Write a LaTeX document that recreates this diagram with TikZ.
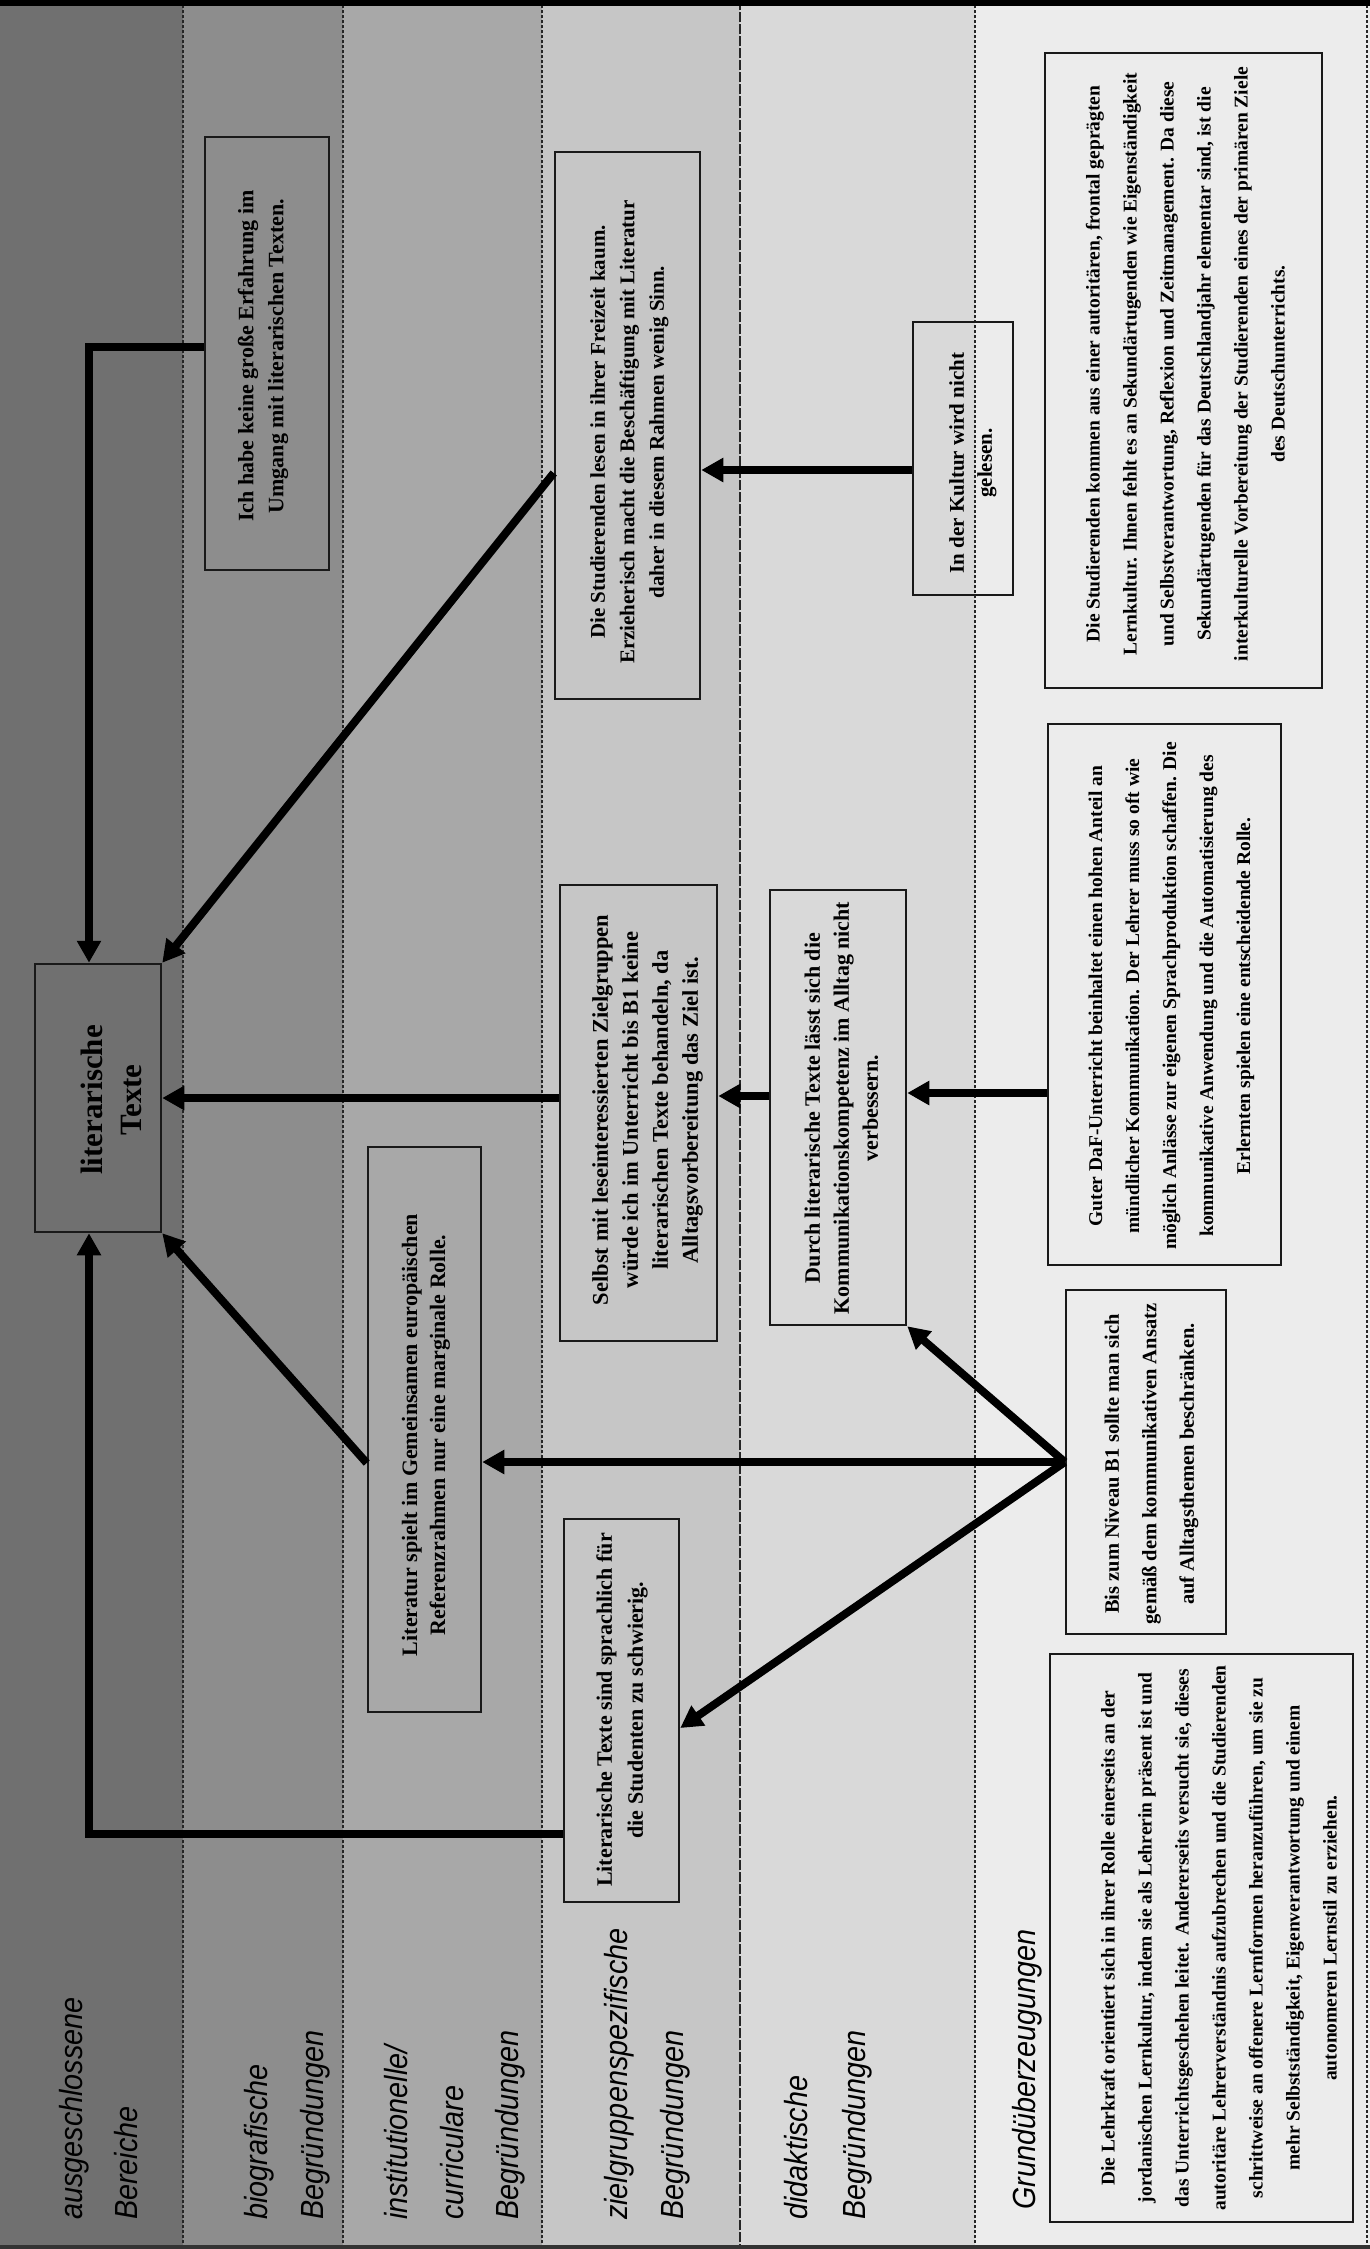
\documentclass[tikz,border=0pt]{standalone}
\usepackage{fontspec}
\setmainfont{Liberation Serif}
\newfontfamily\lblfont[FakeStretch=0.9]{Liberation Sans}
\usetikzlibrary{arrows.meta,calc}
\definecolor{bandA}{HTML}{707070}
\definecolor{bandB}{HTML}{8D8D8D}
\definecolor{bandC}{HTML}{A8A8A8}
\definecolor{bandD}{HTML}{C6C6C6}
\definecolor{bandE}{HTML}{D9D9D9}
\definecolor{bandF}{HTML}{ECECEC}
\tikzset{
  box/.style={draw=black!90, line width=2.5pt, rotate=90, inner sep=0pt},
  txt/.style={rotate=90, align=center, inner sep=0pt},
  lbl/.style={rotate=90, anchor=base west, inner sep=0pt, font=\lblfont\itshape\fontsize{32}{38}\selectfont},
  conn/.style={line width=8pt, -{Triangle[length=22pt,width=23pt]}},
  sepline/.style={line width=1.8pt, dash pattern=on 3pt off 2pt, black!85},
}
\begin{document}
\begin{tikzpicture}[x=1pt,y=-1pt]
\useasboundingbox (0,0) rectangle (1370,2249);
% bands
\fill[bandA] (0,0) rectangle (183,2249);
\fill[bandB] (183,0) rectangle (343,2249);
\fill[bandC] (343,0) rectangle (542,2249);
\fill[bandD] (542,0) rectangle (740,2249);
\fill[bandE] (740,0) rectangle (975,2249);
\fill[bandF] (975,0) rectangle (1370,2249);
\draw[sepline] (183,0) -- (183,2249);
\draw[sepline] (343,0) -- (343,2249);
\draw[sepline] (542,0) -- (542,2249);
\draw[line width=1.5pt, dash pattern=on 10pt off 2pt, black!85] (740,0) -- (740,2249);
\draw[sepline] (975,0) -- (975,2249);
\draw[sepline] (1367,0) -- (1367,2249);
\draw[line width=6pt] (0,3) -- (1370,3);
\draw[line width=4pt, black!80] (0,2247) -- (1370,2247);

% band titles
\node[lbl] (l1a) at (82,2220) {ausgeschlossene};
\node[lbl] (l1b) at (137,2220) {Bereiche};
\node[lbl] (l2a) at (267,2220) {biografische};
\node[lbl] (l2b) at (323,2220) {Begründungen};
\node[lbl] (l3a) at (407,2220) {institutionelle/};
\node[lbl] (l3b) at (463,2220) {curriculare};
\node[lbl] (l3c) at (518,2220) {Begründungen};
\node[lbl] (l4a) at (627,2220) {zielgruppenspezifische};
\node[lbl] (l4b) at (683,2220) {Begründungen};
\node[lbl] (l5a) at (807,2220) {didaktische};
\node[lbl] (l5b) at (865,2220) {Begründungen};
\node[lbl] (l6) at (1035,2210) {Grundüberzeugungen};

% boxes
\node[box, minimum width=268pt, minimum height=126pt] (lit) at (98,1098) {};
\node[box, minimum width=433pt, minimum height=124pt] (ich) at (267,353.5) {};
\node[box, minimum width=547pt, minimum height=145pt] (stud) at (627.5,425.5) {};
\node[box, minimum width=273pt, minimum height=100pt] (kultur) at (963,458.5) {};
\node[box, minimum width=635pt, minimum height=277pt] (gu1) at (1183.5,370.5) {};
\node[box, minimum width=456pt, minimum height=157pt] (selbst) at (638.5,1113) {};
\node[box, minimum width=435pt, minimum height=136pt] (durch) at (838,1107.5) {};
\node[box, minimum width=541pt, minimum height=233pt] (guter) at (1164.5,994.5) {};
\node[box, minimum width=565pt, minimum height=113pt] (literatur) at (424.5,1429.5) {};
\node[box, minimum width=344pt, minimum height=160pt] (b1) at (1146,1462) {};
\node[box, minimum width=383pt, minimum height=115pt] (littexte) at (621.5,1710.5) {};
\node[box, minimum width=568pt, minimum height=303pt] (gu2) at (1201.5,1938) {};

% texts
\node[txt, font=\bfseries\fontsize{31}{39}\selectfont] (litT) at (111.5,1100) {literarische\\Texte};
\node[txt, font=\bfseries\fontsize{22}{30}\selectfont] (ichT) at (263,356) {Ich habe keine große Erfahrung im\\Umgang mit literarischen Texten.};
\node[txt, font=\bfseries\fontsize{21}{29.5}\selectfont] (studT) at (629.5,432) {Die Studierenden lesen in ihrer Freizeit kaum.\\Erzieherisch macht die Beschäftigung mit Literatur\\daher in diesem Rahmen wenig Sinn.};
\node[txt, font=\bfseries\fontsize{21}{28}\selectfont] (kulturT) at (973,463) {In der Kultur wird nicht\\gelesen.};
\node[txt, font=\bfseries\fontsize{19.5}{37}\selectfont] (gu1T) at (1185.5,364) {Die Studierenden kommen aus einer autoritären, frontal geprägten\\Lernkultur. Ihnen fehlt es an Sekundärtugenden wie Eigenständigkeit\\und Selbstverantwortung, Reflexion und Zeitmanagement. Da diese\\Sekundärtugenden für das Deutschlandjahr elementar sind, ist die\\interkulturelle Vorbereitung der Studierenden eines der primären Ziele\\des Deutschunterrichts.};
\node[txt, font=\bfseries\fontsize{22.5}{30}\selectfont] (selbstT) at (647.5,1110) {Selbst mit leseinteressierten Zielgruppen\\würde ich im Unterricht bis B1 keine\\literarischen Texte behandeln, da\\Alltagsvorbereitung das Ziel ist.};
\node[txt, font=\bfseries\fontsize{22}{29}\selectfont] (durchT) at (841.5,1108) {Durch literarische Texte lässt sich die\\Kommunikationskompetenz im Alltag nicht\\verbessern.};
\node[txt, font=\bfseries\fontsize{19.5}{37}\selectfont] (guterT) at (1171.5,996) {Guter DaF-Unterricht beinhaltet einen hohen Anteil an\\mündlicher Kommunikation. Der Lehrer muss so oft wie\\möglich Anlässe zur eigenen Sprachproduktion schaffen. Die\\kommunikative Anwendung und die Automatisierung des\\Erlernten spielen eine entscheidende Rolle.};
\node[txt, font=\bfseries\fontsize{22}{28}\selectfont] (literaturT) at (426,1435) {Literatur spielt im Gemeinsamen europäischen\\Referenzrahmen nur eine marginale Rolle.};
\node[txt, font=\bfseries\fontsize{20.5}{37.5}\selectfont] (b1T) at (1151.5,1464) {Bis zum Niveau B1 sollte man sich\\gemäß dem kommunikativen Ansatz\\auf Alltagsthemen beschränken.};
\node[txt, font=\bfseries\fontsize{22}{31}\selectfont] (littexteT) at (622,1710) {Literarische Texte sind sprachlich für\\die Studenten zu schwierig.};
\node[txt, font=\bfseries\fontsize{19.5}{37}\selectfont] (gu2T) at (1219,1938) {Die Lehrkraft orientiert sich in ihrer Rolle einerseits an der\\jordanischen Lernkultur, indem sie als Lehrerin präsent ist und\\das Unterrichtsgeschehen leitet. Andererseits versucht sie, dieses\\autoritäre Lehrerverständnis aufzubrechen und die Studierenden\\schrittweise an offenere Lernformen heranzuführen, um sie zu\\mehr Selbstständigkeit, Eigenverantwortung und einem\\autonomeren Lernstil zu erziehen.};

% connector levels
\coordinate (yIch) at (0,347);
\coordinate (yStud) at (0,473);
\coordinate (yKult) at (0,470);
\coordinate (yA) at (0,1093);
\coordinate (yB) at (0,1096);
\coordinate (yC) at (0,1098);
\coordinate (yLit) at (0,1463);
\coordinate (yLT) at (0,1834);
\coordinate (yLThit) at (0,1728);
\coordinate (xV) at (89,0);

% connectors
\draw[conn] (ich.north |- yIch) -| (xV |- lit.east);
\draw[conn] (stud.north |- yStud) -- (lit.south east);
\draw[conn] (kultur.north |- yKult) -- (stud.south |- yKult);
\draw[conn] (guter.north |- yA) -- (durch.south |- yA);
\draw[conn] (durch.north |- yB) -- (selbst.south |- yB);
\draw[conn] (selbst.north |- yC) -- (lit.south |- yC);
\draw[conn] (literatur.north |- yLit) -- (lit.south west);
\draw[conn] (b1.north) -- (literatur.south |- b1.north);
\draw[conn] (b1.north) -- (durch.south west);
\draw[conn] (b1.north) -- (littexte.south |- yLThit);
\draw[conn] (littexte.north |- yLT) -| (xV |- lit.west);
\end{tikzpicture}
\end{document}
